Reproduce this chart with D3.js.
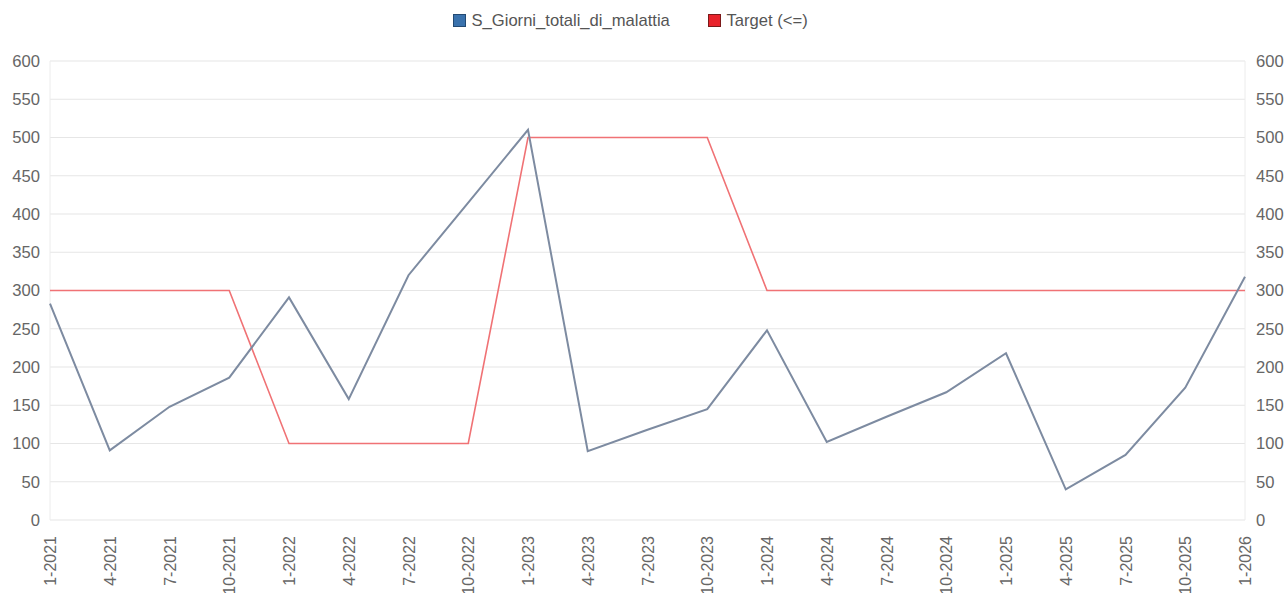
<!DOCTYPE html>
<html>
<head>
<meta charset="utf-8">
<script src="https://cdn.jsdelivr.net/npm/d3@7"></script>
<style>
  html, body { margin: 0; padding: 0; background: #fff; overflow: hidden; }
  svg { display: block; font-family: "Liberation Sans", Arial, sans-serif; }
</style>
</head>
<body>
<svg id="chart" width="1285" height="593"></svg>
<script>
// Quarterly periods (month-year)
const periods = ["1-2021","4-2021","7-2021","10-2021","1-2022","4-2022","7-2022","10-2022",
  "1-2023","4-2023","7-2023","10-2023","1-2024","4-2024","7-2024","10-2024",
  "1-2025","4-2025","7-2025","10-2025","1-2026"];

// Total sick days per quarter
const giorniMalattia = [283, 91, 148, 186, 291, 158, 320, 415, 510, 90, 118, 145,
  248, 102, 135, 167, 218, 40, 85, 173, 318];

// Target threshold (<=)
const target = [300, 300, 300, 300, 100, 100, 100, 100, 500, 500, 500, 500,
  300, 300, 300, 300, 300, 300, 300, 300, 300];

const yTicks = [0, 50, 100, 150, 200, 250, 300, 350, 400, 450, 500, 550, 600];

const seriesNames = ["S_Giorni_totali_di_malattia", "Target (<=)"];

(function draw() {
  const svg = d3.select("#chart");
  const plotLeft = 50, plotRight = 1245, plotTop = 61, plotBottom = 520;

  const x = d3.scalePoint().domain(periods).range([plotLeft, plotRight]);
  const y = d3.scaleLinear().domain([0, 600]).range([plotBottom, plotTop]);

  // horizontal grid
  svg.append("g").selectAll("line").data(yTicks).join("line")
    .attr("x1", plotLeft).attr("x2", plotRight)
    .attr("y1", d => y(d)).attr("y2", d => y(d))
    .attr("stroke", "#e6e6e6").attr("stroke-width", 1.2);

  // vertical frame lines
  svg.append("g").selectAll("line").data([plotLeft, plotRight]).join("line")
    .attr("x1", d => d).attr("x2", d => d)
    .attr("y1", plotTop).attr("y2", plotBottom)
    .attr("stroke", "#ececec").attr("stroke-width", 1);

  // left y axis
  const yLeft = d3.axisLeft(y).tickValues(yTicks).tickSize(0).tickPadding(10);
  svg.append("g").attr("transform", `translate(${plotLeft},0)`).call(yLeft)
    .call(g => g.select(".domain").remove())
    .call(g => g.selectAll("text").attr("fill", "#666").style("font-size", "16.6px"));

  // right y axis
  const yRight = d3.axisRight(y).tickValues(yTicks).tickSize(0).tickPadding(11);
  svg.append("g").attr("transform", `translate(${plotRight},0)`).call(yRight)
    .call(g => g.select(".domain").remove())
    .call(g => g.selectAll("text").attr("fill", "#666").style("font-size", "16.6px"));

  // x axis with vertical labels
  const xAxis = d3.axisBottom(x).tickSize(0).tickPadding(0);
  svg.append("g").attr("transform", `translate(0,${plotBottom})`).call(xAxis)
    .call(g => g.select(".domain").remove())
    .call(g => g.selectAll("text")
      .attr("fill", "#666").style("font-size", "16px")
      .attr("text-anchor", "end")
      .attr("transform", "rotate(-90)")
      .attr("x", -16).attr("y", 0).attr("dy", "0.35em"));

  const line = d3.line().x((d, i) => x(periods[i])).y(d => y(d));

  svg.append("path").datum(target)
    .attr("fill", "none").attr("stroke", "#f07275").attr("stroke-width", 1.6)
    .attr("stroke-linejoin", "miter").attr("d", line);

  svg.append("path").datum(giorniMalattia)
    .attr("fill", "none").attr("stroke", "#7d8ba1").attr("stroke-width", 2)
    .attr("stroke-linejoin", "miter").attr("d", line);

  // legend
  const legendItems = [
    { name: seriesNames[0], fill: "#3a72ad", stroke: "#234a73", x: 453 },
    { name: seriesNames[1], fill: "#e8232b", stroke: "#7a1a1a", x: 708 }
  ];
  const lg = svg.append("g").selectAll("g").data(legendItems).join("g")
    .attr("transform", d => `translate(${d.x},14)`);
  lg.append("rect").attr("x", 0.5).attr("y", 0.5).attr("width", 12).attr("height", 12)
    .attr("fill", d => d.fill).attr("stroke", d => d.stroke).attr("stroke-width", 1);
  lg.append("text").attr("x", 18.5).attr("y", 12)
    .attr("fill", "#555").style("font-size", "16.6px").text(d => d.name);
})();
</script>
</body>
</html>
